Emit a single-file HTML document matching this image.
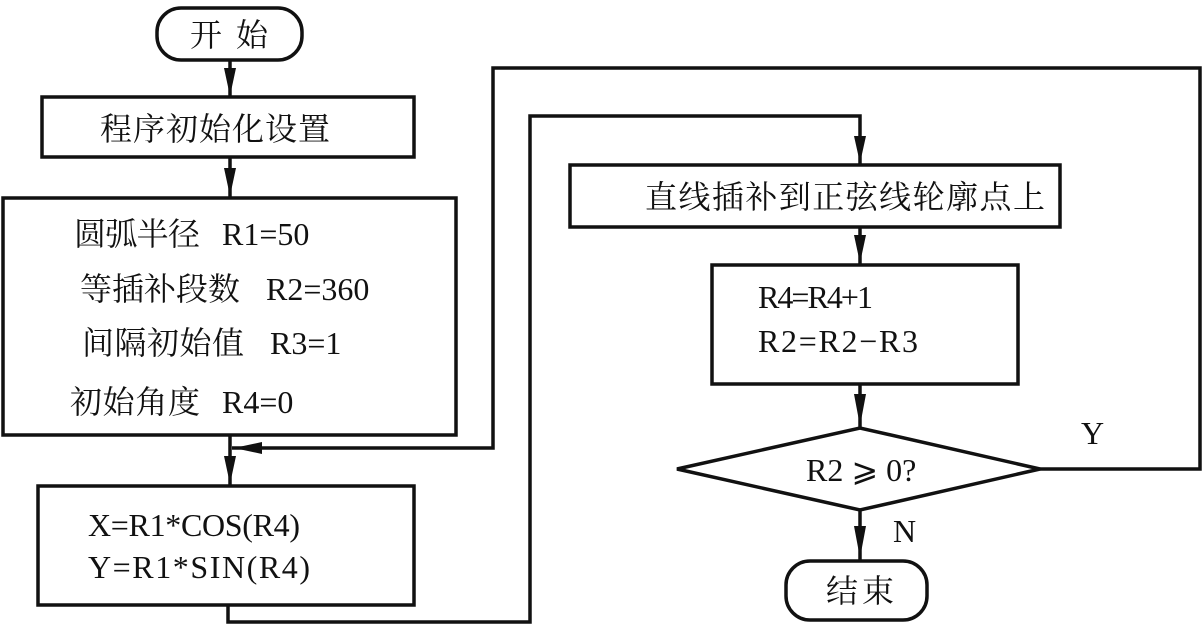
<!DOCTYPE html>
<html><head><meta charset="utf-8"><style>
html,body{margin:0;padding:0;background:#fff;}
svg{display:block;}
text{font-family:"Liberation Serif","Noto Serif CJK SC",serif;fill:#111;}
</style></head><body>
<svg width="1204" height="624" viewBox="0 0 1204 624" xmlns="http://www.w3.org/2000/svg">
<g stroke="#111" stroke-width="3.5" fill="none">
<rect x="157" y="8" width="145" height="52" rx="24"/>
<rect x="42" y="97" width="372" height="60"/>
<rect x="3" y="198" width="453" height="237"/>
<rect x="38" y="486" width="376" height="119"/>
<rect x="570" y="165" width="490" height="62"/>
<rect x="712" y="265" width="306" height="119"/>
<polygon points="677,469 860,428 1040,469 860,510"/>
<rect x="786" y="561" width="141" height="59" rx="24"/>
<line x1="230" y1="60" x2="230" y2="97"/>
<line x1="230" y1="157" x2="230" y2="198"/>
<line x1="230" y1="435" x2="230" y2="486"/>
<polyline points="1040,469 1200,469 1200,68 493,68 493,448 232,448"/>
<polyline points="228,605 228,622 530,622 530,116 860,116 860,165"/>
<line x1="860" y1="227" x2="860" y2="265"/>
<line x1="860" y1="384" x2="860" y2="428"/>
<line x1="860" y1="510" x2="860" y2="561"/>
</g>
<g fill="#111">
<polygon points="224,68 236,68 230,96"/>
<polygon points="224,168 236,168 230,196"/>
<polygon points="224,456 236,456 230,484"/>
<polygon points="262,442 262,454 234,448"/>
<polygon points="854,136 866,136 860,163"/>
<polygon points="854,235 866,235 860,263"/>
<polygon points="854,394 866,394 860,426"/>
<polygon points="854,526 866,526 860,558"/>
</g>
<g font-size="32">
<text x="190" y="46" textLength="78" lengthAdjust="spacing">开 始</text>
<text x="100" y="140" textLength="230">程序初始化设置</text>
<text x="74" y="245" textLength="126">圆弧半径</text><text x="222" y="245">R1=50</text>
<text x="80" y="300" textLength="160">等插补段数</text><text x="266" y="300">R2=360</text>
<text x="82" y="354" textLength="162">间隔初始值</text><text x="270" y="354">R3=1</text>
<text x="70" y="413" textLength="130">初始角度</text><text x="222" y="413">R4=0</text>
<text x="88" y="536" textLength="212">X=R1*COS(R4)</text>
<text x="88" y="578" textLength="222">Y=R1*SIN(R4)</text>
<text x="645" y="208" textLength="400">直线插补到正弦线轮廓点上</text>
<text x="758" y="308" textLength="115">R4=R4+1</text>
<text x="758" y="352" textLength="160">R2=R2−R3</text>
<text x="806" y="481">R2 ⩾ 0?</text>
<text x="1081" y="444">Y</text>
<text x="893" y="542">N</text>
<text x="826" y="602" textLength="68">结束</text>
</g>
</svg>
</body></html>
